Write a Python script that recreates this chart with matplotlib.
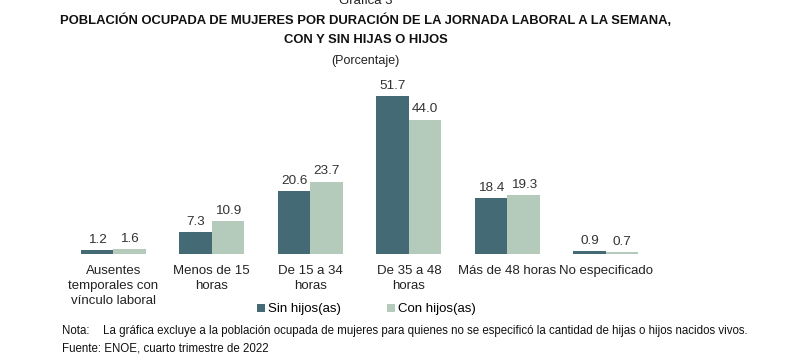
import matplotlib
matplotlib.use("Agg")
import matplotlib.pyplot as plt
import numpy as np

categories = ["Ausentes\ntemporales con\nvínculo laboral", "Menos de 15\nhoras",
              "De 15 a 34\nhoras", "De 35 a 48\nhoras", "Más de 48 horas", "No especificado"]
sin_hijos = [1.2, 7.3, 20.6, 51.7, 18.4, 0.9]
con_hijos = [1.6, 10.9, 23.7, 44.0, 19.3, 0.7]
series_names = ["Sin hijos(as)", "Con hijos(as)"]

dark = "#436a75"
light = "#b4cbbb"
fam = ["Liberation Sans Narrow", "Liberation Sans", "DejaVu Sans"]
plt.rcParams['font.family'] = fam

fig = plt.figure(figsize=(8, 3.61), dpi=100)
ax = fig.add_axes([0.08, 0.2964, 0.739, 0.491])

x = np.arange(len(categories))
w = 0.33
b1 = ax.bar(x - w/2, sin_hijos, w, color=dark, label=series_names[0])
b2 = ax.bar(x + w/2, con_hijos, w, color=light, label=series_names[1])
for bars, vals in ((b1, sin_hijos), (b2, con_hijos)):
    for r, v in zip(bars, vals):
        ax.annotate(f"{v:.1f}", (r.get_x() + r.get_width()/2, v), xytext=(0, 3),
                    textcoords="offset points", ha="center", va="bottom",
                    fontsize=9.7, color="#333333")

ax.set_xlim(-0.5, len(categories) - 0.5)
ax.set_ylim(0, 58)
ax.set_yticks([])
ax.set_xticks(x)
ax.set_xticklabels(categories, fontsize=9.5, color="#222222", linespacing=1.35)
ax.tick_params(axis="x", length=0, pad=8)
for s in ax.spines.values():
    s.set_visible(False)

leg = fig.legend(handles=[b1, b2], labels=series_names, loc="center",
                 bbox_to_anchor=(0.458, 0.143), ncol=2, frameon=False,
                 fontsize=9.5, handlelength=0.6, handleheight=0.6,
                 handletextpad=0.2, columnspacing=3.5)

fig.text(0.457, 0.996, "Gráfica 3", ha="center", va="center", fontsize=9.5, color="#222222")
fig.text(0.457, 0.943, "POBLACIÓN OCUPADA DE MUJERES POR DURACIÓN DE LA JORNADA LABORAL A LA SEMANA,",
         ha="center", va="center", fontsize=9.4, fontweight="bold", color="#111111")
fig.text(0.457, 0.888, "CON Y SIN HIJAS O HIJOS", ha="center", va="center",
         fontsize=9.4, fontweight="bold", color="#111111")
fig.text(0.457, 0.83, "(Porcentaje)", ha="center", va="center", fontsize=9, color="#222222")

fig.text(0.078, 0.083, "Nota:", ha="left", va="center", fontsize=8.3, color="#111111")
fig.text(0.129, 0.083, "La gráfica excluye a la población ocupada de mujeres para quienes no se especificó la cantidad de hijas o hijos nacidos vivos.",
         ha="left", va="center", fontsize=8.3, color="#111111")
fig.text(0.078, 0.035, "Fuente: ENOE, cuarto trimestre de 2022", ha="left", va="center",
         fontsize=8.3, color="#111111")

fig.savefig("out.png", dpi=100)
